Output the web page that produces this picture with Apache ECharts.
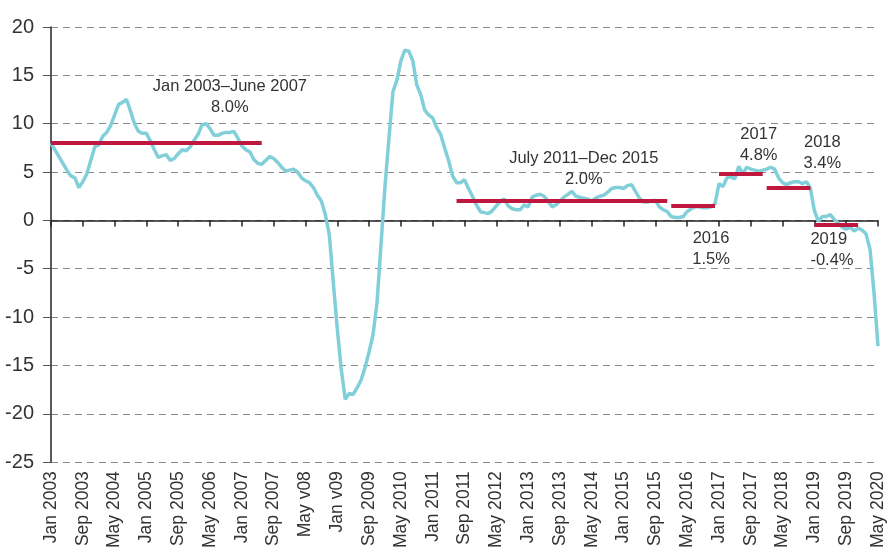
<!DOCTYPE html>
<html>
<head>
<meta charset="utf-8">
<script src="https://cdn.jsdelivr.net/npm/echarts@6/dist/echarts.min.js"></script>
<style>
  html, body { margin: 0; padding: 0; background: #fff; }
  #main { width: 887px; height: 551px; }
</style>
</head>
<body>
<div id="main"></div>
<script>
// monthly values, Jan 2003 - May 2020 (one row per year)
const growth = [
  8.0, 7.3, 6.6, 5.9, 5.2, 4.6, 4.4, 3.4, 4.0, 4.8, 6.2, 7.6,
  7.8, 8.7, 9.1, 9.8, 10.9, 12.0, 12.2, 12.5, 11.3, 10.0, 9.2, 9.0,
  9.0, 8.2, 7.3, 6.5, 6.7, 6.8, 6.2, 6.4, 6.9, 7.3, 7.2, 7.6,
  8.3, 8.9, 9.9, 10.0, 9.5, 8.8, 8.8, 9.0, 9.1, 9.1, 9.2, 8.5,
  7.7, 7.3, 7.1, 6.3, 5.9, 5.8, 6.2, 6.6, 6.4, 6.0, 5.5, 5.1,
  5.2, 5.3, 5.0, 4.4, 4.1, 3.9, 3.4, 2.6, 2.0, 0.6, -1.5, -6.4,
  -11.2, -15.4, -18.5, -17.9, -18.0, -17.3, -16.5, -15.2, -13.6, -11.8, -8.5, -2.5,
  3.5, 8.5, 13.3, 14.5, 16.5, 17.6, 17.5, 16.5, 14.0, 13.0, 11.4, 10.9,
  10.6, 9.6, 8.9, 7.5, 6.2, 4.6, 3.9, 3.9, 4.2, 3.3, 2.5, 1.6,
  0.9, 0.8, 0.7, 1.0, 1.5, 2.0, 2.2, 1.5, 1.2, 1.1, 1.1, 1.6,
  1.4, 2.4, 2.6, 2.7, 2.5, 2.0, 1.4, 1.6, 2.0, 2.4, 2.7, 3.0,
  2.5, 2.4, 2.3, 2.2, 2.0, 2.3, 2.5, 2.6, 2.9, 3.3, 3.4, 3.4,
  3.3, 3.6, 3.7, 3.0, 2.3, 1.9, 1.9, 2.0, 2.1, 1.4, 1.1, 0.9,
  0.4, 0.3, 0.3, 0.4, 0.9, 1.2, 1.4, 1.4, 1.3, 1.3, 1.4, 1.7,
  3.8, 3.5, 4.4, 4.5, 4.3, 5.6, 4.8, 5.5, 5.3, 5.2, 5.1, 5.2,
  5.3, 5.5, 5.3, 4.4, 3.9, 3.7, 3.9, 4.0, 4.0, 3.8, 4.0, 3.3,
  1.0, -0.1, 0.4, 0.4, 0.6, 0.1, -0.3, -0.7, -0.9, -0.7, -1.1, -0.8,
  -1.0, -1.4, -3.0, -7.5, -13.0
];

// x labels, every 8 months (typos as in the original)
const tickLabels = [
  "Jan 2003", "Sep 2003", "May 2004", "Jan 2005", "Sep 2005", "May 2006",
  "Jan 2007", "Sep 2007", "May v08", "Jan v09", "Sep 2009", "May 2010",
  "Jan 2011", "Sep 2011", "May 2012", "Jan 2013", "Sep 2013", "May 2014",
  "Jan 2015", "Sep 2015", "May 2016", "Jan 2017", "Sep 2017", "May 2018",
  "Jan 2019", "Sep 2019", "May 2020"
];

// period averages: [start month index, end month index, value]
const averages = [
  [0, 53, 8.0],
  [102, 155, 2.0],
  [156, 167, 1.5],
  [168, 179, 4.8],
  [180, 191, 3.4],
  [192, 203, -0.4]
];

// annotation text: [month index, value, text, align]
const notes = [
  [45, 12.8, "Jan 2003\u2013June 2007\n8.0%", "center"],
  [134, 5.3, "July 2011\u2013Dec 2015\n2.0%", "center"],
  [166, -3.0, "2016\n1.5%", "center"],
  [178, 7.8, "2017\n4.8%", "center"],
  [194, 7.0, "2018\n3.4%", "center"],
  [191, -3.1, "2019\n-0.4%", "left"]
];

const monthNames = ["Jan", "Feb", "Mar", "Apr", "May", "Jun", "Jul", "Aug", "Sep", "Oct", "Nov", "Dec"];
const categories = growth.map(function (v, i) {
  return monthNames[i % 12] + " " + (2003 + Math.floor(i / 12));
});

const FONT = "'Liberation Sans Narrow', 'Arial Narrow', 'Liberation Sans', sans-serif";
const TEXT = "#333";

let myChart = echarts.init(document.getElementById("main"));

let option = {
  backgroundColor: "#fff",
  animation: false,
  grid: { left: 51, right: 7, top: 27, bottom: 87, containLabel: false },
  xAxis: [
    {
      // labels at the bottom
      type: "category",
      data: categories,
      boundaryGap: false,
      position: "bottom",
      axisLine: { show: false, onZero: false },
      axisTick: { show: false },
      axisLabel: {
        interval: 7,
        rotate: 90,
        margin: 9,
        color: TEXT,
        fontFamily: FONT,
        fontSize: 17.5,
        formatter: function (val, idx) {
          return tickLabels[idx / 8] || "";
        }
      },
      splitLine: { show: false }
    },
    {
      // axis line + ticks at zero
      type: "category",
      data: categories,
      boundaryGap: false,
      position: "bottom",
      axisLine: { show: true, onZero: true, lineStyle: { color: "#222", width: 1.5 } },
      axisTick: { show: true, interval: 7, length: 6, lineStyle: { color: "#222", width: 1.5 } },
      axisLabel: { show: false },
      splitLine: { show: false }
    }
  ],
  yAxis: {
    type: "value",
    min: -25,
    max: 20,
    interval: 5,
    axisLine: { show: true, lineStyle: { color: "#222", width: 1.5 } },
    axisTick: { show: true, length: 8, lineStyle: { color: "#555", width: 1 } },
    axisLabel: { color: TEXT, fontFamily: FONT, fontSize: 20, margin: 17 },
    splitLine: { show: true, lineStyle: { color: "#8a8a8a", width: 1, type: [7, 5] } }
  },
  series: [
    {
      name: "growth",
      type: "line",
      data: growth,
      showSymbol: false,
      symbol: "none",
      smooth: false,
      lineStyle: { color: "#80cfd9", width: 3.5 },
      z: 3,
      markLine: {
        silent: true,
        symbol: ["none", "none"],
        label: { show: false },
        lineStyle: { color: "#c0173f", width: 4, type: "solid" },
        data: averages.map(function (a) {
          return [{ coord: [a[0], a[2]] }, { coord: [a[1], a[2]] }];
        })
      },
      markPoint: {
        silent: true,
        symbol: "circle",
        symbolSize: 1,
        itemStyle: { color: "rgba(0,0,0,0)" },
        data: notes.map(function (n) {
          return {
            coord: [n[0], n[1]],
            label: {
              show: true,
              position: "inside",
              formatter: n[2],
              color: TEXT,
              fontFamily: FONT,
              fontSize: 16.5,
              lineHeight: 21,
              align: n[3]
            }
          };
        })
      }
    }
  ]
};

myChart.setOption(option);
</script>
</body>
</html>
